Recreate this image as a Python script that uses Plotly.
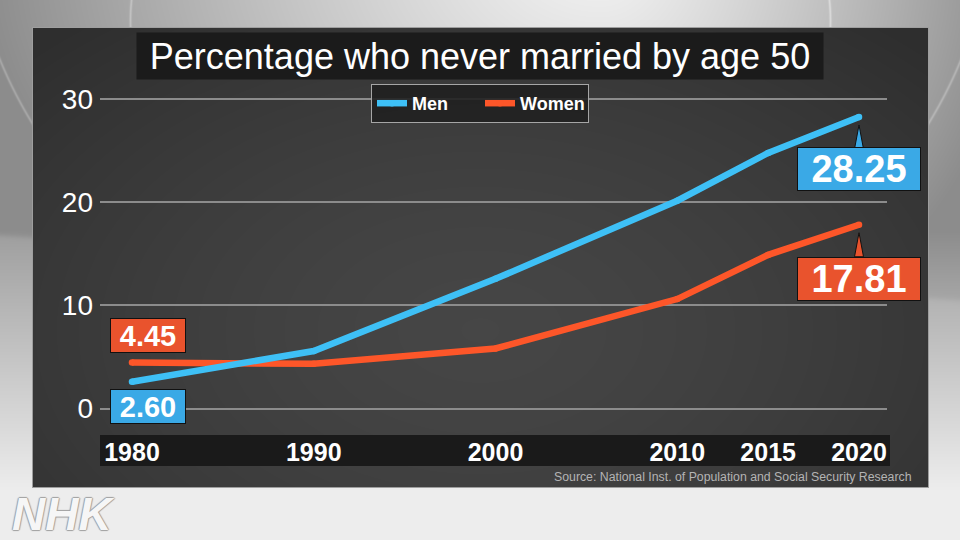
import base64
import struct
import zlib

import numpy as np
import plotly.graph_objects as go

# ---------------- data ----------------
years = [1980, 1990, 2000, 2010, 2015, 2020]
men = [2.60, 5.57, 12.57, 20.14, 24.77, 28.25]
women = [4.45, 4.33, 5.82, 10.61, 14.89, 17.81]
x_tick_labels = ["1980", "1990", "2000", "2010", "2015", "2020"]
y_ticks = [0, 10, 20, 30]
series_names = ["Men", "Women"]
title_text = "Percentage who never married by age 50"
source_text = "Source: National Inst. of Population and Social Security Research"
logo_text = "NHK"

# ---------------- style ----------------
W, H = 960, 540
MEN_LINE = "#3ec0f6"
WOMEN_LINE = "#fd5629"
MEN_BOX = "#3aa9e6"
WOMEN_BOX = "#e9532d"
SANS = "Liberation Sans, Arial, sans-serif"

PX0, PX1 = 100, 887
PYT, PYB = 93.8, 413.7
X_RANGE = [1978.24, 2021.54]
Y_RANGE = [-0.5, 30.5]
PX_PER_YEAR = (PX1 - PX0) / (X_RANGE[1] - X_RANGE[0])
PX_PER_UNIT = (PYB - PYT) / (Y_RANGE[1] - Y_RANGE[0])


def fx(x):
    return x / W


def fy(y):
    return 1 - y / H


def make_background():
    yy, xx = np.mgrid[0:H, 0:W].astype(float)
    dx = (xx - 600) / np.where(xx > 600, 420.0, 620.0)
    dy = (yy + 40) / 420.0
    d = np.clip(np.sqrt(dx ** 2 + dy ** 2), 0, 1)
    top = 0.95 - 0.40 * d ** 1.2
    edge = 235 + 65 * xx / W
    step = 0.07 / (1 + np.exp(-(yy - edge) / 1.5))
    w = np.clip((yy - 230) / 260, 0, 1)
    bg = (top + step) * (1 - w) + 0.93 * w
    e1 = np.sqrt(((xx - 480) / 350) ** 2 + ((yy - 20) / 260) ** 2)
    bg += 0.10 * np.exp(-((e1 - 1) * 350 / 1.2) ** 2)
    e2 = np.sqrt(((xx - 480) / 512) ** 2 + ((yy + 100) / 461) ** 2)
    bg += 0.10 * np.exp(-((e2 - 1) * 480 / 1.2) ** 2)
    r = np.sqrt(((xx - 480) / 520) ** 2 + ((yy - 330) / 330) ** 2)
    panel = 0.275 - 0.07 * np.clip(r, 0, 1.2) ** 1.5
    inside = (xx >= 33) & (xx < 928) & (yy >= 28) & (yy < 487)
    bg = np.where(inside, panel, bg)
    border = ((xx == 32) | (xx == 928)) & (yy >= 27) & (yy <= 487) | \
             ((yy == 27) | (yy == 487)) & (xx >= 32) & (xx <= 928)
    bg = np.where(border, 0.62, bg)
    img = (np.clip(bg, 0, 1) * 255).astype(np.uint8)
    rgb = np.stack([img, img, img], axis=-1)
    raw = b"".join(b"\x00" + rgb[i].tobytes() for i in range(H))

    def chunk(tag, data):
        return (struct.pack(">I", len(data)) + tag + data
                + struct.pack(">I", zlib.crc32(tag + data) & 0xFFFFFFFF))

    png = (b"\x89PNG\r\n\x1a\n"
           + chunk(b"IHDR", struct.pack(">IIBBBBB", W, H, 8, 2, 0, 0, 0))
           + chunk(b"IDAT", zlib.compress(raw, 9))
           + chunk(b"IEND", b""))
    return "data:image/png;base64," + base64.b64encode(png).decode()


fig = go.Figure()
fig.add_trace(go.Scatter(
    x=years, y=women, name=series_names[1], mode="lines+markers",
    line=dict(color=WOMEN_LINE, width=6.5), marker=dict(size=6.5, color=WOMEN_LINE),
    legendrank=2, cliponaxis=False, hoverinfo="skip"))
fig.add_trace(go.Scatter(
    x=years, y=men, name=series_names[0], mode="lines+markers",
    line=dict(color=MEN_LINE, width=6.5), marker=dict(size=6.5, color=MEN_LINE),
    legendrank=1, cliponaxis=False, hoverinfo="skip"))

shapes = [dict(type="rect", xref="paper", yref="paper",
               x0=fx(100), x1=fx(890), y0=fy(466), y1=fy(435),
               fillcolor="#1a1a1a", line=dict(width=0), layer="below")]

annotations = [dict(
    text=title_text, x=fx(480), y=fy(56), xref="paper", yref="paper",
    showarrow=False, font=dict(family=SANS, size=36, color="white"),
    bgcolor="#1b1b1b", width=686, height=46, borderpad=0,
    xanchor="center", yanchor="middle")]


def value_label(x, v, color, xshift, yshift, size, w, h, pointer):
    annotations.append(dict(
        text=f"{v:.2f}", x=x, y=v, xref="x", yref="y", showarrow=False,
        xshift=xshift, yshift=yshift, bgcolor=color, bordercolor="#111111",
        borderwidth=1, borderpad=0, width=w, height=h,
        font=dict(family=SANS, size=size, color="white", weight="bold"),
        xanchor="center", yanchor="middle"))
    if pointer:
        half = 4.5 / PX_PER_YEAR
        tip = v - 8 / PX_PER_UNIT
        base = v - 32 / PX_PER_UNIT
        shapes.append(dict(
            type="path", xref="x", yref="y", layer="above",
            path=f"M {x - half},{base} L {x},{tip} L {x + half},{base} Z",
            fillcolor=color, line=dict(color="#111111", width=1)))


value_label(years[0], women[0], WOMEN_BOX, 16, 27, 29, 74, 33, False)
value_label(years[0], men[0], MEN_BOX, 16, -25, 29, 74, 33, False)
value_label(years[-1], men[-1], MEN_BOX, 0, -52, 38, 122, 42, True)
value_label(years[-1], women[-1], WOMEN_BOX, 0, -54, 38, 122, 42, True)

annotations.append(dict(
    text=source_text, x=fx(914), y=fy(477), xref="paper", yref="paper",
    showarrow=False, xanchor="right", yanchor="middle",
    font=dict(family=SANS, size=12.3, color="#b4b4b4")))
annotations.append(dict(
    text=logo_text, x=fx(10), y=fy(514), xref="paper", yref="paper",
    showarrow=False, xanchor="left", yanchor="middle",
    font=dict(family=SANS, size=46, color="#f6f6f6", weight="bold",
              style="italic",
              shadow="1px 0px 1px #a0a0a0, -1px 0px 1px #a0a0a0, "
                     "0px 1px 1px #a0a0a0, 0px -1px 1px #a0a0a0")))

fig.update_layout(
    width=W, height=H,
    margin=dict(l=0, r=0, t=0, b=0, autoexpand=False),
    paper_bgcolor="#d0d0d0", plot_bgcolor="rgba(0,0,0,0)",
    images=[dict(source=make_background(), xref="paper", yref="paper",
                 x=0, y=1, sizex=1, sizey=1, xanchor="left", yanchor="top",
                 sizing="stretch", layer="below")],
    xaxis=dict(domain=[fx(PX0), fx(PX1)], range=X_RANGE, tickvals=years,
               ticktext=x_tick_labels, showgrid=False, zeroline=False,
               showline=False, ticks="", ticklabelstandoff=21,
               automargin=False,
               tickfont=dict(family=SANS, size=25, color="white",
                             weight="bold")),
    yaxis=dict(domain=[fy(PYB), fy(PYT)], range=Y_RANGE, tickvals=y_ticks,
               showgrid=True, gridcolor="#8c8c8c", gridwidth=1.5,
               zeroline=False, showline=False, ticks="",
               ticklabelstandoff=6, automargin=False,
               tickfont=dict(family=SANS, size=28, color="white")),
    showlegend=True,
    legend=dict(orientation="h", x=fx(371), y=fy(84), xanchor="left",
                yanchor="top", bgcolor="rgba(32,32,32,0.9)",
                bordercolor="#a6a6a6", borderwidth=1,
                font=dict(family=SANS, size=18, color="white",
                          weight="bold"),
                itemwidth=30, tracegroupgap=0, entrywidth=63),
    shapes=shapes, annotations=annotations,
)

fig.write_html(
    "out.html",
    post_script=("document.body.style.margin='0';"
                 "document.body.style.overflow='hidden';"
                 "document.documentElement.style.overflow='hidden';"))
